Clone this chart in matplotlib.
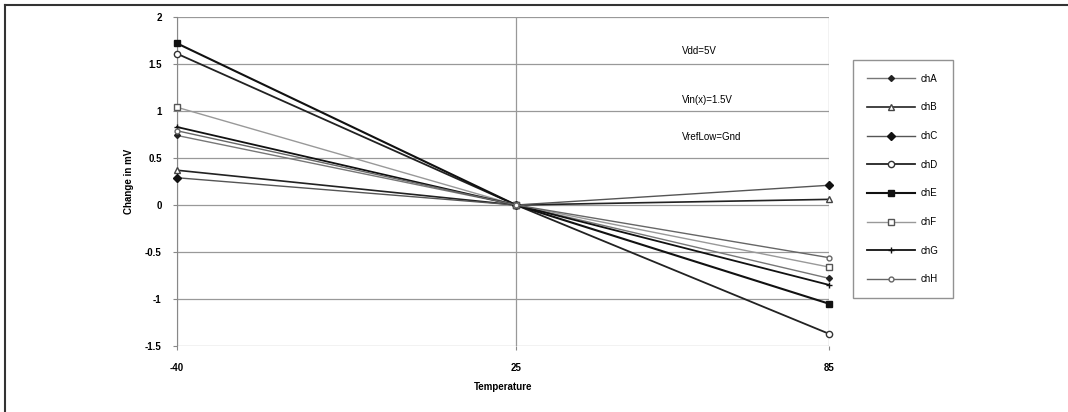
import matplotlib
matplotlib.use("Agg")
import matplotlib.pyplot as plt
from matplotlib.lines import Line2D

plt.rcParams['font.family'] = ['Liberation Sans', 'DejaVu Sans']

temps = [-40, 25, 85]
xtick_labels = ["-40", "25", "85"]
series_names = ["chA", "chB", "chC", "chD", "chE", "chF", "chG", "chH"]
chA = [0.74, 0.0, -0.78]
chB = [0.37, 0.0, 0.06]
chC = [0.29, 0.0, 0.21]
chD = [1.61, 0.0, -1.37]
chE = [1.72, 0.0, -1.05]
chF = [1.04, 0.0, -0.66]
chG = [0.83, 0.0, -0.85]
chH = [0.79, 0.0, -0.56]
series_values = [chA, chB, chC, chD, chE, chF, chG, chH]
yticks = [-1.5, -1, -0.5, 0, 0.5, 1, 1.5, 2]
ytick_labels = ["-1.5", "-1", "-0.5", "0", "0.5", "1", "1.5", "2"]
notes = ["Vdd=5V", "Vin(x)=1.5V", "VrefLow=Gnd"]
note_y = [1.64, 1.12, 0.72]

styles = [
    dict(color="#777777", marker="D", ms=3, mfc="#222222", mec="#222222", lw=1.0),
    dict(color="#222222", marker="^", ms=4, mfc="white", mec="#444444", lw=1.2),
    dict(color="#555555", marker="D", ms=4, mfc="#111111", mec="#111111", lw=1.0),
    dict(color="#222222", marker="o", ms=4.5, mfc="white", mec="#333333", lw=1.3),
    dict(color="#111111", marker="s", ms=4.5, mfc="#111111", mec="#111111", lw=1.5),
    dict(color="#999999", marker="s", ms=4.5, mfc="white", mec="#555555", lw=1.0),
    dict(color="#111111", marker="+", ms=5, mfc="#111111", mec="#111111", lw=1.3),
    dict(color="#666666", marker="o", ms=3.5, mfc="white", mec="#666666", lw=1.0),
]

fig = plt.figure(figsize=(10.68, 4.12), dpi=100)
ax = fig.add_axes([0.1657, 0.1602, 0.6105, 0.7985])

for name, vals, st in zip(series_names, series_values, styles):
    ax.plot(temps, vals, label=name, clip_on=False, zorder=3, **st)

ax.set_xlim(-40, 85)
ax.set_ylim(-1.5, 2)
ax.set_xticks(temps)
ax.set_xticklabels(xtick_labels, fontsize=7, fontweight="bold")
ax.set_yticks(yticks)
ax.set_yticklabels(ytick_labels, fontsize=7, fontweight="bold")
ax.grid(True, color="#999999", lw=0.9)
ax.set_axisbelow(True)
for s in ax.spines.values():
    s.set_visible(False)
ax.spines['left'].set_visible(True)
ax.spines['left'].set_color("#888888")
ax.tick_params(axis='y', length=3, color="#888888", pad=8)
ax.tick_params(axis='x', length=3, color="#888888", pad=9)
ax.set_xlabel("Temperature", fontsize=7, fontweight="bold", labelpad=7)
ax.set_ylabel("Change in mV", fontsize=7, fontweight="bold", labelpad=8)

for t, yv in zip(notes, note_y):
    ax.text(56.8, yv, t, fontsize=7, va="center", ha="left")

leg = fig.legend(loc="upper left", bbox_to_anchor=(0.7987, 0.854), fontsize=7,
                 frameon=True, fancybox=False, edgecolor="#777777",
                 labelspacing=1.92, handlelength=5.0, borderpad=1.4,
                 handletextpad=0.6, borderaxespad=0)
leg.get_frame().set_linewidth(1.0)

fig.add_artist(Line2D([0.0047, 1.0], [0.988, 0.988], transform=fig.transFigure,
                      color="#333333", lw=1.5))
fig.add_artist(Line2D([0.0047, 0.0047], [0.0, 0.988], transform=fig.transFigure,
                      color="#333333", lw=1.5))

fig.savefig("out.png", dpi=100)
